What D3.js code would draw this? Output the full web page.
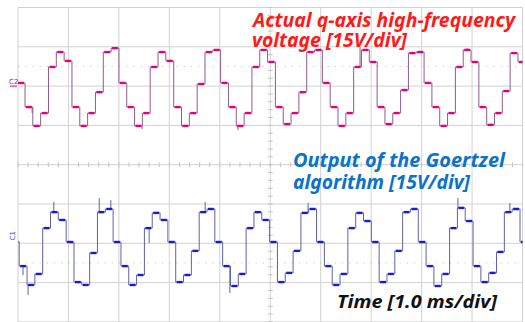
<!DOCTYPE html>
<html>
<head>
<meta charset="utf-8">
<script src="https://cdn.jsdelivr.net/npm/d3@7"></script>
<style>
  body { margin: 0; background: #fff; }
  svg { display: block; }
</style>
</head>
<body>
<div id="scope"></div>
<script>
// scope settings
const timePerDiv = 1.0;      // ms/div
const voltPerDiv = 15;       // V/div
const stepDt = 0.1551;       // ms, update period of both signals

// actual q-axis high-frequency voltage (C2), one level per update, V
const qStart = -0.016;
const qVolt = [1.2, -8.0, -15.2, -10.3, 7.3, 13.0, 9.6, -8.0, -15.2, -10.3, -2.3, 13.0, 14.5,
  1.2, -8.0, -15.2, -10.3, 7.3, 13.0, 9.6, -8.0, -15.2, -10.3, 0.8, 13.0, 13.8,
  1.2, -8.0, -15.2, -10.3, 7.3, 13.8, 9.2, -8.0, -14.5, -10.3, -2.3, 13.0, 13.8,
  1.2, -8.0, -15.2, -10.3, 7.3, 13.8, 9.2, -8.0, -14.5, -10.3, -1.5, 12.6, 13.0,
  1.2, -8.0, -15.2, -10.3, 7.3, 13.8, 9.2, -8.0, -14.8, -10.3, -1.9, 12.6, 9.2];
// noise spikes on C2: [time ms, tip V]
const qSpikes = [[0.28, -10.3], [2.46, -16.4], [4.36, -16.8], [6.78, 14.9], [8.90, 14.5]];

// output of the Goertzel algorithm (C1), V
const gStart = -0.131;
const gVolt = [0.5,
  -8.7, -15.9, -11.7, 5.8, 11.9, 8.9, 0.5, -14.8, -15.9, -3.7, 11.9, 13.1, 0.5,
  -8.7, -15.9, -12.1, 5.8, 11.6, 8.9, 0.5, -14.8, -12.1, -2.9, 11.9, 13.1, 0.5,
  -8.7, -16.3, -11.7, 5.8, 11.9, 8.9, 0.5, -14.8, -11.3, -2.9, 11.6, 13.1, 0.5,
  -8.7, -15.9, -11.7, 5.8, 11.6, 8.5, 0.5, -14.8, -11.7, -2.9, 11.9, 13.1, 0.5,
  -8.7, -16.3, -11.7, 5.8, 13.5, 8.5, -8.7, -14.8, -11.3, -3.3, 11.9, 13.1, 0.5];
const gSpikes = [[0.10, -12.1], [0.20, -19.7], [0.71, 15.8], [1.61, 17.3], [1.84, 16.5],
  [2.60, 0.1], [3.71, 15.8], [4.20, -19.0], [5.75, 15.4], [8.72, 17.3], [9.75, 15.4]];

// channel ground positions, in divisions from screen centre
const qOffset = 2;
const gOffset = -2;

const redLines = ["Actual q-axis high-frequency", "voltage [15V/div]"];
const blueLines = ["Output of the Goertzel", "algorithm [15V/div]"];
const timeLabel = "Time [1.0 ms/div]";

const width = 525, height = 322;
const plotL = 18, plotR = 522.5, plotT = 7.5, plotB = 321.9;

const svg = d3.select("#scope").append("svg")
  .attr("width", width)
  .attr("height", height);

const x = d3.scaleLinear().domain([0, 10 * timePerDiv]).range([plotL, plotR]);
const y = d3.scaleLinear().domain([-4, 4]).range([plotB, plotT]);

// grid
const grid = svg.append("g");
grid.selectAll(".vgrid")
  .data(d3.range(0, 11))
  .join("line")
  .attr("x1", d => x(d)).attr("x2", d => x(d))
  .attr("y1", plotT).attr("y2", height)
  .attr("stroke", "#d2d2d2");
grid.selectAll(".hgrid")
  .data(d3.range(-4, 5))
  .join("line")
  .attr("x1", plotL).attr("x2", plotR)
  .attr("y1", d => y(d)).attr("y2", d => y(d))
  .attr("stroke", "#d2d2d2");

// minor ticks on the centre axes
grid.selectAll(".xtick")
  .data(d3.range(0, 50.01, 1).map(d => d / 5))
  .join("line")
  .attr("x1", d => x(d)).attr("x2", d => x(d))
  .attr("y1", y(0) - 2.5).attr("y2", y(0) + 2.5)
  .attr("stroke", "#c4c4c4");
grid.selectAll(".ytick")
  .data(d3.range(-20, 20.01, 1).map(d => d / 5))
  .join("line")
  .attr("x1", x(5) - 2.5).attr("x2", x(5) + 2.5)
  .attr("y1", d => y(d)).attr("y2", d => y(d))
  .attr("stroke", "#c4c4c4");

// dotted reference lines
grid.selectAll(".dotted")
  .data([2.5, -2.5])
  .join("line")
  .attr("x1", plotL).attr("x2", plotR)
  .attr("y1", d => y(d)).attr("y2", d => y(d))
  .attr("stroke", "#c8c8c8")
  .attr("stroke-dasharray", "1.2,6");

svg.append("clipPath").attr("id", "plot")
  .append("rect").attr("x", plotL).attr("y", 0)
  .attr("width", plotR - plotL).attr("height", height);

function drawTrace(levels, start, offset, spikes, thin, thick) {
  const pts = levels.map((v, i) => [start + i * stepDt, offset + v / voltPerDiv]);
  pts.push([start + levels.length * stepDt, pts[pts.length - 1][1]]);
  const g = svg.append("g").attr("clip-path", "url(#plot)");
  g.append("path")
    .attr("d", d3.line().x(d => x(d[0])).y(d => y(d[1])).curve(d3.curveStepAfter)(pts))
    .attr("fill", "none")
    .attr("stroke", thin)
    .attr("stroke-width", 1);
  // short glitches sticking out of a level
  g.selectAll(".spike")
    .data(spikes)
    .join("line")
    .attr("x1", d => x(d[0])).attr("x2", d => x(d[0]))
    .attr("y1", d => {
      const i = Math.max(0, Math.min(levels.length - 1, Math.floor((d[0] - start) / stepDt)));
      return y(offset + levels[i] / voltPerDiv);
    })
    .attr("y2", d => y(offset + d[1] / voltPerDiv))
    .attr("stroke", thin)
    .attr("stroke-width", 1);
  g.selectAll(".dwell")
    .data(pts.slice(0, -1))
    .join("line")
    .attr("x1", d => x(d[0]) + 1)
    .attr("x2", d => x(d[0] + stepDt) - 1)
    .attr("y1", d => y(d[1])).attr("y2", d => y(d[1]))
    .attr("stroke", thick)
    .attr("stroke-width", 2.4);
}

drawTrace(qVolt, qStart, qOffset, qSpikes, "#8e5d88", "#e4007c");
drawTrace(gVolt, gStart, gOffset, gSpikes, "#5d63a3", "#1a1ad6");

// channel markers
svg.append("text")
  .attr("x", 9).attr("y", y(qOffset) - 2)
  .attr("font-family", "DejaVu Sans, sans-serif")
  .attr("font-size", 7)
  .attr("fill", "#e4007c")
  .text("C2");
svg.append("line")
  .attr("x1", 10).attr("x2", 17).attr("y1", y(qOffset)).attr("y2", y(qOffset))
  .attr("stroke", "#e4007c");
svg.append("text")
  .attr("transform", `translate(15,${y(gOffset) - 3}) rotate(-90)`)
  .attr("font-family", "DejaVu Sans, sans-serif")
  .attr("font-size", 7)
  .attr("fill", "#3a46d0")
  .text("C1");

// labels: one text block per annotation, one tspan per line
function label(lines, xs, ys, widths, size, color) {
  const t = svg.append("text")
    .attr("font-family", "Noto Sans, sans-serif")
    .attr("font-weight", "bold")
    .attr("font-style", "italic")
    .attr("font-size", size)
    .attr("fill", color);
  lines.forEach((s, i) => {
    t.append("tspan")
      .attr("x", xs[i]).attr("y", ys[i])
      .attr("textLength", widths[i])
      .attr("lengthAdjust", "spacingAndGlyphs")
      .text(s);
  });
}
label(redLines, [253, 252], [27, 47], [262, 155], 19, "#ff1a1a");
label(blueLines, [293, 293], [167, 189], [212, 177], 19, "#0a72c8");
label([timeLabel], [337], [308], [160], 18.5, "#111");
</script>
</body>
</html>
